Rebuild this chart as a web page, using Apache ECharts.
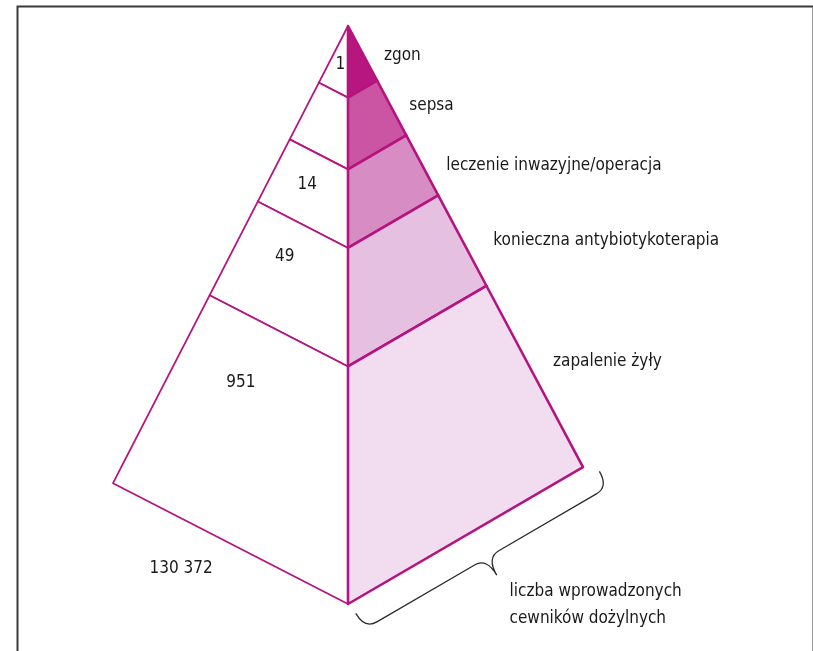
<!DOCTYPE html>
<html>
<head>
<meta charset="UTF-8">
<title>Piramida powikłań</title>
<script src="https://cdn.jsdelivr.net/npm/echarts@6/dist/echarts.min.js"></script>
<style>
  html, body { margin: 0; padding: 0; background: #fff; }
  #main { width: 813px; height: 651px; }
</style>
</head>
<body>
<div id="main"></div>
<script>
// dane - poziomy piramidy (od wierzchołka)
var tierLabels = ['zgon', 'sepsa', 'leczenie inwazyjne/operacja', 'konieczna antybiotykoterapia', 'zapalenie żyły'];
var tierCounts = ['1', null, '14', '49', '951'];
var tierBounds = [0.124, 0.248, 0.384, 0.589, 1];   // dolna granica poziomu, ułamek wysokości
var baseCount = '130 372';
var baseLabel = ['liczba wprowadzonych', 'cewników dożylnych'];

// wygląd
var tierColors = ['#b8167f', '#cb55a3', '#d88cc4', '#e6c0e1', '#f2dcf0'];
var STROKE = '#b5147e';
var FONT = '"Liberation Sans Narrow", "DejaVu Sans Condensed", sans-serif';
var FS = 17;
// naroża piramidy w jednostkach osi
var APEX = [0, 0], LEFT = [-1, 0.791], FRONT = [0, 1], RIGHT = [1, 0.763];
// położenie liczb wewnątrz poziomu (ułamek wysokości poziomu, ułamek szerokości ściany)
var numPos = [[0.6, 0.56], [0.45, 0.5], [0.46, 0.44], [0.35, 0.41], [0.3, 0.36]];
// położenie etykiet przy prawej krawędzi (ułamek wysokości poziomu, odstęp w px)
var labelPos = [[0.55, 20], [0.45, 19], [0.5, 24], [0.5, 31], [0.42, 26]];

function lerp(a, b, t) { return [a[0] + (b[0] - a[0]) * t, a[1] + (b[1] - a[1]) * t]; }

var tierData = tierBounds.map(function (b, i) {
    return [0, i === 0 ? 0 : tierBounds[i - 1], b, i];
});

var myChart = echarts.init(document.getElementById('main'));

function renderTier(params, api) {
    var t0 = api.value(1), t1 = api.value(2), i = api.value(3);
    var c = function (p) { return api.coord(p); };
    var L0 = lerp(APEX, LEFT, t0), L1 = lerp(APEX, LEFT, t1);
    var C0 = lerp(APEX, FRONT, t0), C1 = lerp(APEX, FRONT, t1);
    var R0 = lerp(APEX, RIGHT, t0), R1 = lerp(APEX, RIGHT, t1);
    var children = [
        { type: 'polygon', shape: { points: [c(L0), c(L1), c(C1), c(C0)] },
          style: { fill: '#fff', stroke: STROKE, lineWidth: 1.8, lineJoin: 'round' } },
        { type: 'polygon', shape: { points: [c(C0), c(C1), c(R1), c(R0)] },
          style: { fill: tierColors[i], stroke: STROKE, lineWidth: 2.6, lineJoin: 'round' } }
    ];
    // etykieta po prawej
    var rm = c(lerp(R0, R1, labelPos[i][0]));
    children.push({ type: 'text', style: { text: tierLabels[i], x: rm[0] + labelPos[i][1], y: rm[1],
        fill: '#1a1a1a', font: FS + 'px ' + FONT, align: 'left', verticalAlign: 'middle' } });
    // liczba na lewej ścianie
    if (tierCounts[i] != null) {
        var tn = t0 + (t1 - t0) * numPos[i][0];
        var p = c(lerp(lerp(APEX, LEFT, tn), lerp(APEX, FRONT, tn), numPos[i][1]));
        children.push({ type: 'text', style: { text: tierCounts[i], x: p[0], y: p[1],
            fill: '#1a1a1a', font: FS + 'px ' + FONT, align: 'center', verticalAlign: 'middle' } });
    }
    return { type: 'group', children: children };
}

function renderBase(params, api) {
    var f = api.coord(FRONT), r = api.coord(RIGHT), l = api.coord(LEFT);
    var dx = r[0] - f[0], dy = r[1] - f[1], len = Math.sqrt(dx * dx + dy * dy);
    var u = [dx / len, dy / len], n = [-u[1], u[0]];
    if (n[1] < 0) { n = [-n[0], -n[1]]; }
    var P = function (s, h) {
        return (f[0] + u[0] * s + n[0] * h).toFixed(1) + ' ' + (f[1] + u[1] * s + n[1] * h).toFixed(1);
    };
    // klamra
    var s0 = 2, s1 = len + 12, m = (s0 + s1) / 2, e = 12, run = 30, tip = 50, a = 14;
    var d = 'M' + P(s0, e) +
        ' Q' + P(s0, run) + ' ' + P(s0 + a, run) +
        ' L' + P(m - a, run) +
        ' Q' + P(m, run) + ' ' + P(m, tip) +
        ' Q' + P(m, run) + ' ' + P(m + a, run) +
        ' L' + P(s1 - a, run) +
        ' Q' + P(s1, run) + ' ' + P(s1, e);
    var bl = lerp(l, f, 0.29);
    return { type: 'group', children: [
        { type: 'path', shape: { pathData: d },
          style: { fill: 'none', stroke: '#2b2b2b', lineWidth: 1.3 } },
        { type: 'text', style: { text: baseCount, x: bl[0], y: bl[1] + 50,
            fill: '#1a1a1a', font: FS + 'px ' + FONT, align: 'center', verticalAlign: 'middle' } },
        { type: 'text', style: { text: baseLabel.join('\n'), x: f[0] + u[0] * m + 38, y: f[1] + u[1] * m + 73,
            fill: '#1a1a1a', font: FS + 'px ' + FONT, lineHeight: 27, align: 'left', verticalAlign: 'middle' } }
    ] };
}

var option = {
    animation: false,
    grid: { left: 113, right: 230, top: 26, bottom: 47 },
    xAxis: { type: 'value', min: -1, max: 1, show: false },
    yAxis: { type: 'value', min: 0, max: 1, inverse: true, show: false },
    graphic: [{
        type: 'rect', left: 15, top: 4, z: -10,
        shape: { width: 796, height: 700 },
        style: { fill: 'none', stroke: '#3a3a3a', lineWidth: 2 }
    }],
    series: [
        { type: 'custom', renderItem: renderTier, data: tierData, clip: false,
          encode: { x: 0, y: 1 }, silent: true },
        { type: 'custom', renderItem: renderBase, data: [[0, 1]], clip: false,
          encode: { x: 0, y: 1 }, silent: true }
    ]
};

myChart.setOption(option);
</script>
</body>
</html>
